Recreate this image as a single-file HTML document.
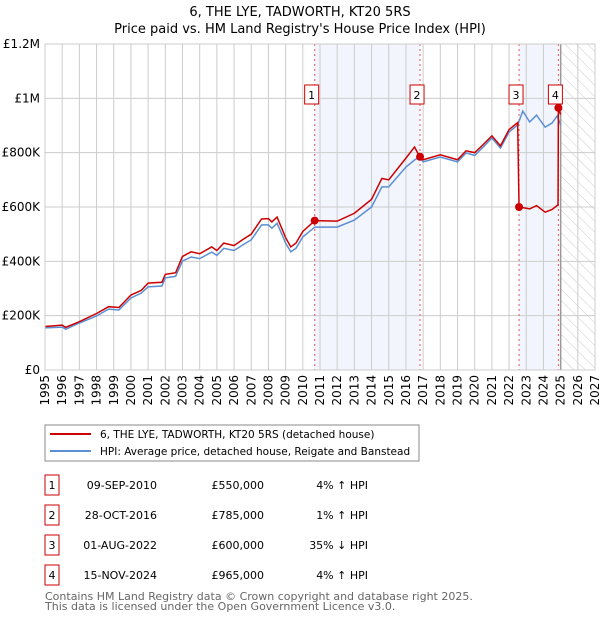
<!DOCTYPE html>
<html><head><meta charset="utf-8">
<style>
body{margin:0;background:#fff;width:600px;height:620px;overflow:hidden;font-family:"DejaVu Sans","Liberation Sans",sans-serif;}
svg text{font-family:"DejaVu Sans","Liberation Sans",sans-serif;}
</style></head>
<body>
<svg id="chart" width="600" height="620" xmlns="http://www.w3.org/2000/svg">
<defs><pattern id="hatch" width="8" height="8" patternUnits="userSpaceOnUse" patternTransform="rotate(-45)"><line x1="0" y1="0" x2="0" y2="8" stroke="#ccc" stroke-width="1"/></pattern></defs>
<text x="300" y="16" text-anchor="middle" font-size="13">6, THE LYE, TADWORTH, KT20 5RS</text>
<text x="300" y="33" text-anchor="middle" font-size="13">Price paid vs. HM Land Registry's House Price Index (HPI)</text>
<g id="plot"></g>
<g>
<rect x="45" y="425" width="374" height="36" fill="#fff" stroke="#888"/>
<line x1="50" y1="434" x2="91" y2="434" stroke="#cc0000" stroke-width="2"/>
<text x="100" y="438" font-size="10.5">6, THE LYE, TADWORTH, KT20 5RS (detached house)</text>
<line x1="50" y1="451" x2="91" y2="451" stroke="#5b8fd4" stroke-width="2"/>
<text x="100" y="455" font-size="10.5">HPI: Average price, detached house, Reigate and Banstead</text>
</g>
<g id="table"></g>
<text x="45" y="600" font-size="11" fill="#666">Contains HM Land Registry data © Crown copyright and database right 2025.</text>
<text x="45" y="610" font-size="11" fill="#666">This data is licensed under the Open Government Licence v3.0.</text>
</svg>
<script>
const hpiDates=[1995,1996,1996.2,1997,1998,1998.7,1999.3,2000,2000.6,2001,2001.8,2002,2002.6,2003,2003.5,2004,2004.7,2005,2005.4,2006,2006.5,2007,2007.6,2008,2008.2,2008.5,2008.8,2009,2009.3,2009.6,2010,2010.7,2012,2013,2014,2014.6,2015,2016,2016.5,2016.8,2017,2018,2019,2019.5,2020,2020.5,2021,2021.5,2022,2022.5,2022.8,2023.2,2023.6,2024.1,2024.5,2024.8,2025.0];
const hpiValues=[155,158,150,173,199,224,221,265,283,306,309,339,345,401,416,410,434,422,448,440,460,479,534,534,522,540,497,467,435,448,490,526,526,552,600,674,674,747,773,784,766,784,766,799,790,821,854,817,876,902,953,913,938,894,909,935,902];
const redDates=[1995,1996,1996.2,1997,1998,1998.7,1999.3,2000,2000.6,2001,2001.8,2002,2002.6,2003,2003.5,2004,2004.7,2005,2005.4,2006,2006.5,2007,2007.6,2008,2008.2,2008.5,2008.8,2009,2009.3,2009.6,2010,2010.7,2012,2013,2014,2014.6,2015,2016,2016.5,2016.8,2017,2018,2019,2019.5,2020,2020.5,2021,2021.5,2022,2022.5,2022.58,2023.2,2023.6,2024.1,2024.5,2024.85,2024.87,2025.0];
const redValues=[160,165,157,178,208,233,230,276,293,320,323,352,358,418,435,428,453,440,467,458,480,500,556,557,545,563,518,487,453,467,510,550,548,577,628,705,700,780,821,785,774,792,774,807,800,830,862,825,885,911,600,593,605,581,591,608,965,940];
const saleLabels=["1","2","3","4"];
const saleDates=[2010.69,2016.82,2022.58,2024.87];
const saleValues=[550,785,600,965];
const saleDateText=["09-SEP-2010","28-OCT-2016","01-AUG-2022","15-NOV-2024"];
const salePriceText=["£550,000","£785,000","£600,000","£965,000"];
const saleHpiText=["4% ↑ HPI","1% ↑ HPI","35% ↓ HPI","4% ↑ HPI"];
const yTicks=[0,200,400,600,800,1000,1200];
const yTickLabels=["£0","£200K","£400K","£600K","£800K","£1M","£1.2M"];
const NS="http://www.w3.org/2000/svg";
const X0=45,X1=595,Y0=370,Y1=44,D0=1995,D1=2027;
const xs=d=>X0+(d-D0)/(D1-D0)*(X1-X0);
const ys=v=>Y0-v/1200*(Y0-Y1);
const plot=document.getElementById('plot');
function mk(tag,attrs,parent){const e=document.createElementNS(NS,tag);for(const k in attrs)e.setAttribute(k,attrs[k]);(parent||plot).appendChild(e);return e;}
let s=mk('rect',{x:xs(saleDates[0]),y:Y1,width:xs(saleDates[1])-xs(saleDates[0]),height:Y0-Y1,fill:'#f2f5fd'});


s=mk('rect',{x:xs(saleDates[2]),y:Y1,width:xs(saleDates[3])-xs(saleDates[2]),height:Y0-Y1,fill:'#f2f5fd'});


s=mk('rect',{x:xs(2025),y:Y1,width:X1-xs(2025),height:Y0-Y1,fill:'url(#hatch)'});


for(let yr=D0;yr<=D1;yr++){
 const l=mk('line',{x1:xs(yr),x2:xs(yr),y1:Y1,y2:Y0,stroke:'#ccc','stroke-width':1});
 
 
 const t=mk('text',{x:0,y:0,'font-size':12,'text-anchor':'end',transform:`translate(${xs(yr)+4},${Y0+5}) rotate(-90)`});
 t.textContent=yr;
 
 
}
yTicks.forEach((v,i)=>{
 const l=mk('line',{x1:X0,x2:X1,y1:ys(v),y2:ys(v),stroke:'#ccc','stroke-width':1});
 
 
 const t=mk('text',{x:40,y:ys(v)+4,'font-size':12,'text-anchor':'end'});
 t.textContent=yTickLabels[i];
 
 
});
const nowLine=mk('line',{x1:xs(2025),x2:xs(2025),y1:Y1,y2:Y0,stroke:'#999','stroke-width':1.5});


saleDates.forEach((d,i)=>{
 const l=mk('line',{x1:xs(d),x2:xs(d),y1:Y1,y2:Y0,stroke:'#ee5555','stroke-width':1,'stroke-dasharray':'2,3'});
 
 
});
const hp=mk('polyline',{points:hpiDates.map((d,i)=>xs(d)+','+ys(hpiValues[i])).join(' '),fill:'none',stroke:'#5b8fd4','stroke-width':1.5});


const rp=mk('polyline',{points:redDates.map((d,i)=>xs(d)+','+ys(redValues[i])).join(' '),fill:'none',stroke:'#cc0000','stroke-width':1.5});


saleDates.forEach((d,i)=>{
 const c=mk('circle',{cx:xs(d),cy:ys(saleValues[i]),r:4,fill:'#cc0000'});
 
 
 const g=mk('g',{});
 
 
 mk('rect',{x:xs(d)-10,y:85,width:14,height:19,fill:'#fff',stroke:'#cc0000'},g);
 const t=mk('text',{x:xs(d)-3,y:99,'font-size':11,'text-anchor':'middle'},g);
 t.textContent=saleLabels[i];
});
mk('rect',{x:X0,y:Y1,width:X1-X0,height:Y0-Y1,fill:'none',stroke:'#ccc'});
const tb=document.getElementById('table');
saleLabels.forEach((lab,i)=>{
 const cy=485+i*30;
 const r=mk('g',{},tb);
 
 
 mk('rect',{x:45,y:cy-10,width:14,height:20,fill:'#fff',stroke:'#cc0000'},r);
 let t=mk('text',{x:52,y:cy+4,'font-size':11,'text-anchor':'middle'},r);t.textContent=lab;
 t=mk('text',{x:157,y:cy+4,'font-size':11,'text-anchor':'end'},r);t.textContent=saleDateText[i];
 t=mk('text',{x:264,y:cy+4,'font-size':11,'text-anchor':'end'},r);t.textContent=salePriceText[i];
 t=mk('text',{x:368,y:cy+4,'font-size':11,'text-anchor':'end'},r);t.textContent=saleHpiText[i];
});
</script>
</body></html>
